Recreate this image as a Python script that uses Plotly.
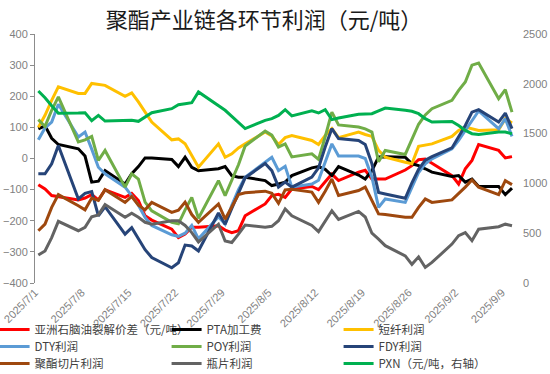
import pandas as pd
import plotly.graph_objects as go

# ---- data ----
dates = pd.bdate_range("2025-07-01", "2025-09-10")  # trading days shown

tick_labels = ["2025/7/1", "2025/7/8", "2025/7/15", "2025/7/22", "2025/7/29",
               "2025/8/5", "2025/8/12", "2025/8/19", "2025/8/26", "2025/9/2", "2025/9/9"]

naphtha = [-84, -98, -119, -123, -133, -127, -116, -133, -101, -125, -112, -135, -184, -198,
           -227, -254, -243, -221, -221, -216, -230, -238, -232, -184, -146, -119, -115, -125, -98,
           -90, -100, -75, -50, -71, -44, -38, -66, -66, -66, -37, -23, -4, -2, -15,
           -55, -82, -33, -6, 45, 26, 2, 6]
pta = [95, 105, 65, 45, 31, 8, -76, -73, -39, -82, -49, -26, 2, 2,
       -3, -26, 4, -28, -39, -33, -26, -55, -60, -60, -71, -87, -82, -76, -55,
       -30, -26, -35, -55, -26, -53, -66, -39, 5, 6, 4, -17, -23, -33, -44,
       -58, -55, -76, -66, -90, -90, -116, -95]
psf = [100, 139, 187, 230, 209, 209, 241, 239, 235, 200, 211, 182, 149, 117,
       60, 63, 47, 10, -28, 47, 4, 15, 34, 47, 85, 72, 45, 67, 74,
       58, 45, 74, 96, 67, 85, 77, 71, 26, 4, -12, -17, 39, 42, 47,
       71, 90, 101, 96, 90, 92, 128, 114]
dty = [60, 98, 117, 174, 69, 85, 30, -28, -49, -92, -120, -150, -189, -215,
       -245, -250, -240, -215, -258, -187, -211, -150, -100, -60, -12, 4, -39, -25, -92,
       -82, -70, -10, 47, 8, 8, 0, -60, -157, -130, -141, -90, -45, -17, -1,
       31, 58, 90, 123, 153, 96, 128, 71]
poy = [125, 103, 155, 198, 53, 60, 71, -6, 26, -92, -49, -66, -140, -168,
       -205, -210, -165, -125, -192, -71, -119, -70, -20, 40, 88, 75, 37, 47, 5,
       15, -3, 70, 149, 108, 101, 95, 85, -10, 26, 13, 60, 110, 140, 160,
       187, 219, 246, 300, 307, 192, 221, 149]
fdy = [-49, -49, -17, 42, -130, -112, -106, -184, -155, -243, -222, -259, -293, -318,
       -351, -335, -278, -281, -297, -175, -211, -160, -110, -62, -16, -39, -92, -76, -92,
       -60, -30, 37, 96, 64, 58, 45, -17, -109, -114, -128, -78, -35, -5, 6,
       34, 69, 106, 149, 157, 117, 146, 96]
chip = [-232, -211, -157, -116, -152, -165, -127, -135, -100, -141, -122, -150, -165, -141,
        -173, -166, -140, -180, -205, -146, -195, -157, -116, -110, -105, -112, -144, -101, -99,
        -108, -141, -105, -66, -119, -103, -92, -135, -178, -180, -189, -189, -157, -130, -141,
        -133, -114, -92, -69, -92, -116, -71, -84]
bottle = [-310, -297, -254, -202, -232, -221, -187, -181, -148, -189, -176, -189, -205, -211,
          -200, -200, -215, -238, -268, -211, -265, -270, -243, -214, -221, -218, -200, -162, -184,
          -215, -235, -203, -168, -196, -170, -188, -240, -259, -280, -313, -340, -316, -350, -334,
          -275, -248, -238, -264, -227, -219, -211, -216]
pxn = [1928, 1860, 1780, 1705, 1707, 1710, 1630, 1683, 1626, 1633, 1633, 1623, 1665, 1710,
       1750, 1790, 1800, 1810, 1918, 1784, 1734, 1673, 1610, 1550, 1633, 1650, 1683, 1740, 1678,
       1728, 1707, 1740, 1640, 1656, 1694, 1700, 1700, 1728, 1757, 1734, 1724, 1700, 1650, 1616,
       1622, 1582, 1532, 1499, 1492, 1515, 1515, 1499]

names = ["亚洲石脑油裂解价差（元/吨）", "PTA加工费", "短纤利润",
         "DTY利润", "POY利润", "FDY利润",
         "聚酯切片利润", "瓶片利润"]
left_series = [naphtha, pta, psf, dty, poy, fdy, chip, bottle]
colors = ["#FF0000", "#000000", "#FFC000", "#5B9BD5", "#70AD47", "#264478",
          "#9E480E", "#636363"]
pxn_name = "PXN（元/吨，右轴）"
pxn_color = "#00B050"

# legend rows (three entries per row, as in the reference)
legend_ids = ["legend", "legend", "legend",
              "legend2", "legend2", "legend2",
              "legend3", "legend3"]
pxn_legend = "legend3"

# ---- figure ----
fig = go.Figure()
for nm, vals, col, lg in zip(names, left_series, colors, legend_ids):
    fig.add_trace(go.Scatter(x=dates, y=vals, name=nm, mode="lines", legend=lg,
                             line=dict(color=col, width=3)))
fig.add_trace(go.Scatter(x=dates, y=pxn, name=pxn_name, mode="lines", yaxis="y2",
                         legend=pxn_legend, line=dict(color=pxn_color, width=3)))

half_day = pd.Timedelta(hours=12)
tickvals = [pd.Timestamp(t.replace("/", "-")) - half_day for t in tick_labels]
x_range = [dates[0] - half_day, dates[-1] + pd.Timedelta(hours=36)]

axis_gray = "#8c8c8c"
label_gray = "#7f7f7f"
num_font = dict(family="Liberation Sans, Arial, sans-serif", size=11, color=label_gray)
legend_font = dict(family="Noto Sans CJK SC", size=11.5, color="#404040")


def legend_row(y):
    return dict(orientation="h", x=-0.083, xanchor="left", y=y, yanchor="middle",
                entrywidth=127, itemwidth=30, traceorder="normal",
                bgcolor="rgba(0,0,0,0)", font=legend_font)


fig.update_layout(
    width=550, height=374,
    margin=dict(l=35, r=28, t=34, b=91, autoexpand=False),
    plot_bgcolor="white", paper_bgcolor="white",
    title=dict(text="聚酯产业链各环节利润（元/吨）", x=0.48, xanchor="center",
               xref="container", y=1 - 20 / 374, yanchor="middle", yref="container",
               font=dict(family="Noto Sans CJK SC", size=22, color="#1a1a1a")),
    showlegend=True,
    xaxis=dict(type="date", range=x_range, tickvals=tickvals, ticktext=tick_labels,
               tickangle=-45, showline=False, showgrid=False, zeroline=False,
               ticks="", tickfont=num_font, automargin=False),
    xaxis2=dict(type="date", overlaying="x", anchor="free", position=0.5,
                range=x_range, tickvals=tickvals, showticklabels=False,
                showline=True, linecolor=axis_gray, linewidth=1,
                ticks="outside", ticklen=4, tickcolor=axis_gray,
                showgrid=False, zeroline=False),
    yaxis=dict(range=[-400, 400], dtick=100, showline=True, linecolor=axis_gray,
               linewidth=1, ticks="outside", ticklen=4, tickcolor=axis_gray,
               showgrid=False, zeroline=False, tickfont=num_font, automargin=False),
    yaxis2=dict(overlaying="y", side="right", range=[0, 2500], dtick=500,
                showgrid=False, showline=False, zeroline=False, ticks="",
                tickfont=num_font, automargin=False),
    legend=legend_row(-(329.5 - 283) / 249),
    legend2=legend_row(-(346.5 - 283) / 249),
    legend3=legend_row(-(363.5 - 283) / 249),
)

fig.write_html("out.html", config={"displayModeBar": False},
               post_script="document.body.style.margin='0';document.body.style.padding='0';")
